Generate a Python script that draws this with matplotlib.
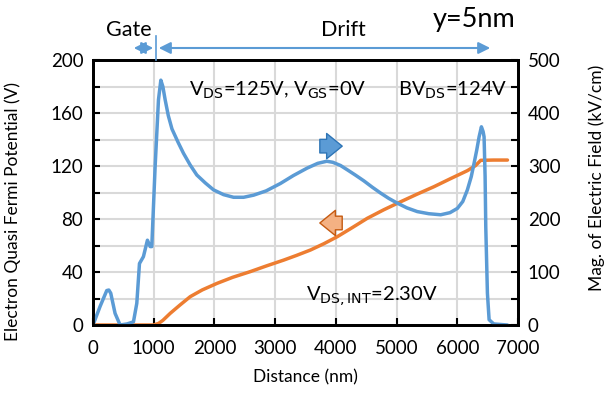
import matplotlib
matplotlib.use('Agg')
import matplotlib.pyplot as plt
import numpy as np

plt.rcParams['font.family'] = ['Lato', 'DejaVu Sans']

# Electric field magnitude (kV/cm) vs distance (nm)
field_x = [0, 116, 226, 260, 292, 363, 446, 560, 666, 721, 765, 830, 896, 941, 968,
           1023, 1078, 1117, 1150, 1188, 1240, 1300, 1400, 1490, 1600, 1710, 1850, 1985,
           2150, 2315, 2480, 2645, 2850, 3086, 3300, 3526, 3700, 3850, 3950, 4076, 4186,
           4320, 4461, 4600, 4736, 4870, 5011, 5170, 5341, 5530, 5726, 5880, 6001, 6090,
           6166, 6230, 6276, 6320, 6359, 6397, 6425, 6441, 6458, 6469, 6496, 6524, 6600,
           6826]
field_y = [0, 35, 65, 66, 60, 22, 0, 2, 6, 41, 116, 129, 160, 148, 148,
           299, 425, 462, 450, 425, 395, 370, 345, 324, 302, 283, 268, 255,
           246, 241, 241, 245, 253, 267, 282, 296, 305, 309, 307, 301, 293,
           283, 272, 260, 249, 239, 230, 221, 214, 210, 208, 212, 220, 233,
           255, 280, 305, 330, 355, 374, 365, 355, 280, 185, 60, 10, 2,
           0]

# Electron quasi Fermi potential (V) vs distance (nm)
pot_x = [0, 995, 1080, 1150, 1271, 1430, 1601, 1800, 2041, 2300, 2591, 2850, 3141, 3350,
         3581, 3800, 4021, 4270, 4516, 4790, 5066, 5340, 5616, 5890, 6166, 6300, 6386,
         6600, 6826]
pot_y = [0, 0, 1.2, 3.5, 8.8, 15, 21.4, 26.5, 31.4, 36, 40.3, 44.5, 49, 52.5,
         56.6, 61.3, 66.6, 73.5, 80.5, 87, 93, 98.8, 104.4, 110.5, 116.5, 120.3, 124.3,
         124.5, 124.5]

blue = '#5B9BD5'
orange = '#ED7D31'

fig = plt.figure(figsize=(6.10, 3.98), dpi=100)
ax = fig.add_axes([0.1525, 0.1834, 0.6967, 0.6658])
ax2 = ax.twinx()

ax.plot(pot_x, pot_y, color=orange, lw=2.5, solid_capstyle='round', solid_joinstyle='round')
ax2.plot(field_x, field_y, color=blue, lw=2.5, solid_capstyle='round', solid_joinstyle='round')

ax.set_xlim(0, 7000)
ax.set_ylim(0, 200)
ax2.set_ylim(0, 500)
ax.set_xticks(np.arange(0, 7001, 1000))
ax.set_yticks(np.arange(0, 201, 40))
ax.set_yticks(np.arange(20, 200, 40), minor=True)
ax2.set_yticks(np.arange(0, 501, 100))
ax2.set_yticks(np.arange(50, 500, 100), minor=True)

ax.grid(True, which='both', axis='y', color='#d9d9d9', lw=1.5)
ax.grid(True, which='major', axis='x', color='#d9d9d9', lw=1.5)
ax.set_axisbelow(True)

for a in (ax, ax2):
    a.tick_params(which='both', direction='in', length=5, width=1.5, labelsize=13.5)
    for s in a.spines.values():
        s.set_linewidth(2)
ax.tick_params(axis='y', pad=7)
ax2.tick_params(axis='y', pad=7)
ax.tick_params(axis='x', pad=11)

ax.set_xlabel('Distance (nm)', fontsize=12.5, labelpad=9)
ax.set_ylabel('Electron Quasi Fermi Potential (V)', fontsize=12.5)
ax2.set_ylabel('Mag. of Electric Field (kV/cm)', fontsize=12.5)
ax.yaxis.set_label_coords(-0.17, 0.43)
ax2.yaxis.set_label_coords(1.165, 0.555)

# text annotations
ax.text(1580, 177, r'V$_{\rm DS}$=125V, V$_{\rm GS}$=0V', fontsize=14.5, va='center')
ax.text(5020, 177, r'BV$_{\rm DS}$=124V', fontsize=14.5, va='center')
ax.text(3500, 22, r'V$_{\rm DS,INT}$=2.30V', fontsize=14.5, va='center')

# block arrows
ax.annotate('', xy=(4150, 135), xytext=(3690, 135),
            arrowprops=dict(arrowstyle='simple,head_width=1.3,head_length=0.8,tail_width=0.7',
                            fc=blue, ec='#2E75B6', lw=1, mutation_scale=14))
ax.annotate('', xy=(3690, 77), xytext=(4150, 77),
            arrowprops=dict(arrowstyle='simple,head_width=1.3,head_length=0.8,tail_width=0.7',
                            fc='#F4B183', ec='#C55A11', lw=1, mutation_scale=14))

# Gate / Drift region markers above the plot
fig.text(129 / 610, 1 - 30 / 398, 'Gate', fontsize=15.5, ha='center', va='center')
fig.text(343 / 610, 1 - 30 / 398, 'Drift', fontsize=15.5, ha='center', va='center')
fig.text(474 / 610, 1 - 20 / 398, 'y=5nm', fontsize=19.5, ha='center', va='center')
ya = 1 - 48 / 398
fig.add_artist(plt.Line2D([156 / 610, 156 / 610], [1 - 36 / 398, 1 - 60 / 398], color=blue, lw=1.2))
fig.add_artist(matplotlib.patches.FancyArrowPatch((131 / 610, ya), (156 / 610, ya),
               transform=fig.transFigure, arrowstyle='<|-|>,head_width=3.5,head_length=7',
               color=blue, lw=1.5))
fig.add_artist(matplotlib.patches.FancyArrowPatch((156 / 610, ya), (493 / 610, ya),
               transform=fig.transFigure, arrowstyle='<|-|>,head_width=3.5,head_length=7',
               color=blue, lw=1.5))

fig.savefig('out.png', dpi=100)
